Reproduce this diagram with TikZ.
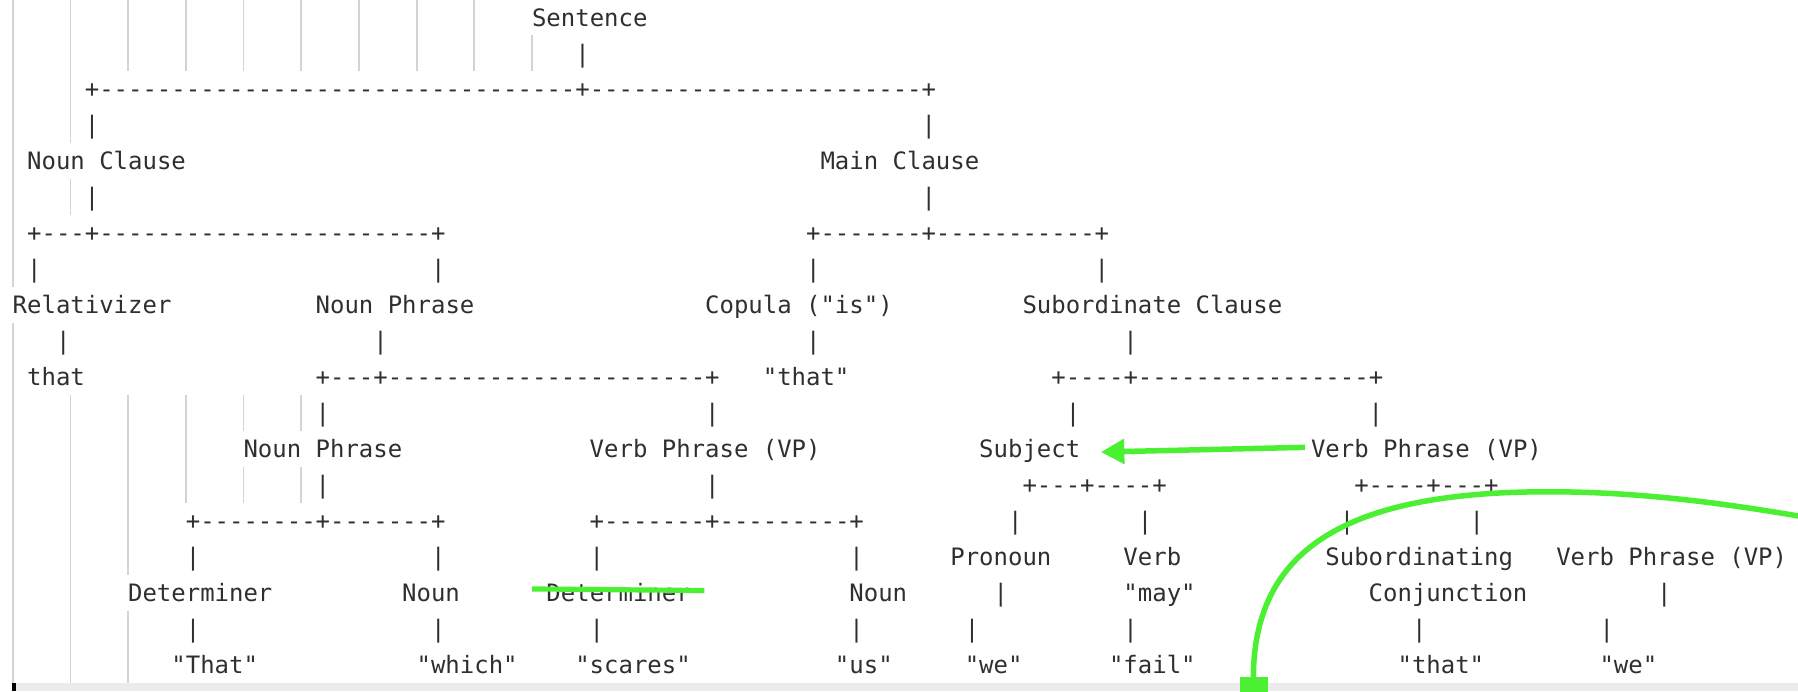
\documentclass[tikz,border=0pt]{standalone}
\usepackage{fontspec}
\setmonofont{DejaVu Sans Mono}
\usetikzlibrary{arrows.meta}
\definecolor{ink}{HTML}{2F2F2F}
\definecolor{guidegray}{HTML}{D4D4D4}
\definecolor{markgreen}{RGB}{75,240,50}
\definecolor{bargray}{HTML}{EBEBEB}
\ExplSyntaxOn
\cs_new:Npn \dashrun #1 { \prg_replicate:nn {#1} {-} }
\ExplSyntaxOff
\newcommand\T[4]{\node[txt] (#1) at ({11.1+12.58*#3},{22.7+31.375*#2}) {#4};}
\newcommand\G[3]{\draw[guideline] ({11.1+12.58*#1},{31.375*#2-0.7}) -- ({11.1+12.58*#1},{31.375*#3+30.7});}
\begin{document}
\begin{tikzpicture}[x=1pt,y=-1pt,
  txt/.style={anchor=base west,inner sep=0pt,outer sep=0pt,font=\ttfamily\fontsize{20.9pt}{20.9pt}\selectfont,text=ink},
  guideline/.style={guidegray,line width=1.5pt},
  ann/.style={markgreen,line width=4.8pt}]
\useasboundingbox (0,0) rectangle (1568,603);
\begin{scope}
\clip (0,0) rectangle (1568,603);
% indent guides
\G{0}{0}{7} \G{0}{9}{18}
\G{4}{0}{3} \G{4}{5}{5} \G{4}{11}{18}
\G{8}{0}{1} \G{8}{11}{15} \G{8}{17}{18}
\G{12}{0}{1} \G{12}{11}{13}
\G{16}{0}{1} \G{16}{11}{11} \G{16}{13}{13}
\G{20}{0}{1} \G{20}{11}{11} \G{20}{13}{13}
\G{24}{0}{1} \G{28}{0}{1} \G{32}{0}{1}
\G{36}{1}{1}
% bottom bar and cursor
\fill[bargray] (11,596) rectangle (1568,603);
\fill[black] (10.5,596) rectangle (14,603);
% text lines
\T{sent}{0}{36}{Sentence}
\T{a1}{1}{39}{|}
\T{a2}{2}{5}{+\dashrun{33}+\dashrun{23}+}
\T{a3}{3}{5}{|} \T{b3}{3}{63}{|}
\T{nc}{4}{1}{Noun Clause} \T{mc}{4}{56}{Main Clause}
\T{a5}{5}{5}{|} \T{b5}{5}{63}{|}
\T{a6}{6}{1}{+\dashrun{3}+\dashrun{23}+} \T{b6}{6}{55}{+\dashrun{7}+\dashrun{11}+}
\T{a7}{7}{1}{|} \T{b7}{7}{29}{|} \T{c7}{7}{55}{|} \T{d7}{7}{75}{|}
\T{rel}{8}{0}{Relativizer} \T{np1}{8}{21}{Noun Phrase} \T{cop}{8}{48}{Copula ("is")} \T{sub}{8}{70}{Subordinate Clause}
\T{a9}{9}{3}{|} \T{b9}{9}{25}{|} \T{c9}{9}{55}{|} \T{d9}{9}{77}{|}
\T{that1}{10}{1}{that} \T{a10}{10}{21}{+\dashrun{3}+\dashrun{22}+} \T{that2}{10}{52}{"that"} \T{b10}{10}{72}{+\dashrun{4}+\dashrun{16}+}
\T{a11}{11}{21}{|} \T{b11}{11}{48}{|} \T{c11}{11}{73}{|} \T{d11}{11}{94}{|}
\T{np2}{12}{16}{Noun Phrase} \T{vp1}{12}{40}{Verb Phrase (VP)} \T{subj}{12}{67}{Subject} \T{vp2}{12}{90}{Verb Phrase (VP)}
\T{a13}{13}{21}{|} \T{b13}{13}{48}{|} \T{c13}{13}{70}{+\dashrun{3}+\dashrun{4}+} \T{d13}{13}{93}{+\dashrun{4}+\dashrun{3}+}
\T{a14}{14}{12}{+\dashrun{8}+\dashrun{7}+} \T{b14}{14}{40}{+\dashrun{7}+\dashrun{9}+}
\T{c14}{14}{69}{|} \T{d14}{14}{78}{|} \T{e14}{14}{92}{|} \T{f14}{14}{101}{|}
\T{a15}{15}{12}{|} \T{b15}{15}{29}{|} \T{c15}{15}{40}{|} \T{d15}{15}{58}{|}
\T{pron}{15}{65}{Pronoun} \T{verb}{15}{77}{Verb} \T{subc}{15}{91}{Subordinating} \T{vp3}{15}{107}{Verb Phrase (VP)}
\T{det1}{16}{8}{Determiner} \T{noun1}{16}{27}{Noun} \T{det2}{16}{37}{Determiner} \T{noun2}{16}{58}{Noun}
\T{a16}{16}{68}{|} \T{may}{16}{77}{"may"} \T{conj}{16}{94}{Conjunction} \T{b16}{16}{114}{|}
\T{a17}{17}{12}{|} \T{b17}{17}{29}{|} \T{c17}{17}{40}{|} \T{d17}{17}{58}{|}
\T{e17}{17}{66}{|} \T{f17}{17}{77}{|} \T{g17}{17}{97}{|} \T{h17}{17}{110}{|}
\T{w1}{18}{11}{"That"} \T{w2}{18}{28}{"which"} \T{w3}{18}{39}{"scares"} \T{w4}{18}{57}{"us"}
\T{w5}{18}{66}{"we"} \T{w6}{18}{76}{"fail"} \T{w7}{18}{96}{"that"} \T{w8}{18}{110}{"we"}
% green annotations
\coordinate (arrS) at (1138,390.1);
\coordinate (arrE) at (960,394.2);
\draw[ann,-{Triangle[length=20.5pt,width=21pt]}] (arrS) -- (arrE);
\coordinate (stS) at (464,513.6);
\coordinate (stE) at (614.2,515);
\draw[markgreen,line width=4.5pt] (stS) -- (stE);
\coordinate (cvS) at (1093,592);
\coordinate (cvT) at (1334,429);
\coordinate (cvE) at (1580,452);
\draw[ann] (cvS) .. controls (1093,485) and (1165,432) .. (cvT) .. controls (1420,427.5) and (1500,438) .. (cvE);
\fill[markgreen] (1081,590) rectangle (1106,606);
\end{scope}
\end{tikzpicture}
\end{document}
